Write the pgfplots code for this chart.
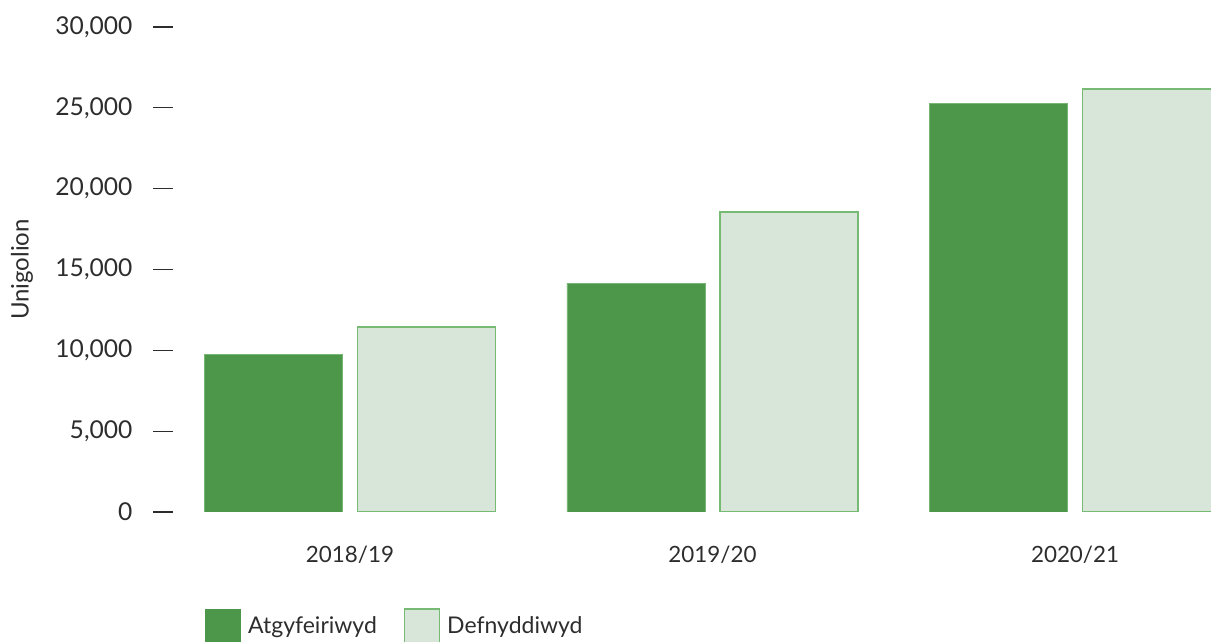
\documentclass[border=0pt]{standalone}
\usepackage{fontspec}
\setmainfont{Lato}
\usepackage{pgfplots}
\pgfplotsset{compat=1.18}
\definecolor{dk}{RGB}{76,151,74}
\definecolor{dkedge}{RGB}{120,182,117}
\definecolor{lt}{RGB}{216,230,217}
\definecolor{ltedge}{RGB}{118,186,115}
\definecolor{txt}{RGB}{45,45,45}
\begin{document}
\fontsize{12.3pt}{14pt}\selectfont
\begin{tikzpicture}
\begin{axis}[name=ax, scale only axis, width=519pt, height=242.5pt,
  xmin=-0.4883, xmax=2.375, ymin=0, ymax=30000,
  ybar, bar width=0.381,
  xtick={0,1,2}, xticklabels={2018/19,2019/20,2020/21},
  ytick={0,5000,...,30000},
  scaled y ticks=false,
  /pgf/number format/1000 sep={,},
  /pgf/number format/assume math mode=true,
  axis line style={draw=none},
  xtick style={draw=none},
  ytick pos=left,
  tick align=outside,
  major tick length=10pt,
  ytick style={draw=txt, line width=0.6pt},
  tick label style={text=txt},
  yticklabel style={anchor=east, xshift=-6pt, font=\fontsize{12.3pt}{14pt}\selectfont},
  xticklabel style={anchor=center, yshift=-11.5pt, font=\fontsize{11.2pt}{13pt}\selectfont},
  ylabel={Unigolion},
  ylabel style={at={(axis description cs:-0.1455,0.5)}, anchor=center, text=txt, font=\fontsize{12pt}{14pt}\selectfont},
  legend columns=2,
  legend style={at={(axis description cs:0.0308,-0.198)}, anchor=north west, draw=none, fill=none, inner sep=0pt,
    nodes={inner sep=0pt, text=txt, font=\fontsize{11.5pt}{14pt}\selectfont},
    /tikz/every even column/.append style={column sep=13.5pt}},
  clip=true,
]
\addplot[fill=dk, draw=dkedge, line width=0.4pt, bar shift=-0.211,
  legend image code/.code={\fill[dk] (0pt,-8.75pt) rectangle (17.5pt,8.75pt); \path (21pt,0pt);}]
  coordinates {(0,9770) (1,14160) (2,25290)};
\addplot[fill=lt, draw=ltedge, line width=0.7pt, bar shift=0.211,
  legend image code/.code={\filldraw[fill=lt, draw=ltedge, line width=0.7pt] (0pt,-8.75pt) rectangle (17.5pt,8.75pt); \path (21pt,0pt);}]
  coordinates {(0,11440) (1,18550) (2,26160)};
\legend{Atgyfeiriwyd, Defnyddiwyd}
\end{axis}
\pgfresetboundingbox
\path[use as bounding box] ([shift={(-86.5pt,-65pt)}]ax.south west) rectangle ([shift={(0pt,13.5pt)}]ax.north east);
\end{tikzpicture}
\end{document}
